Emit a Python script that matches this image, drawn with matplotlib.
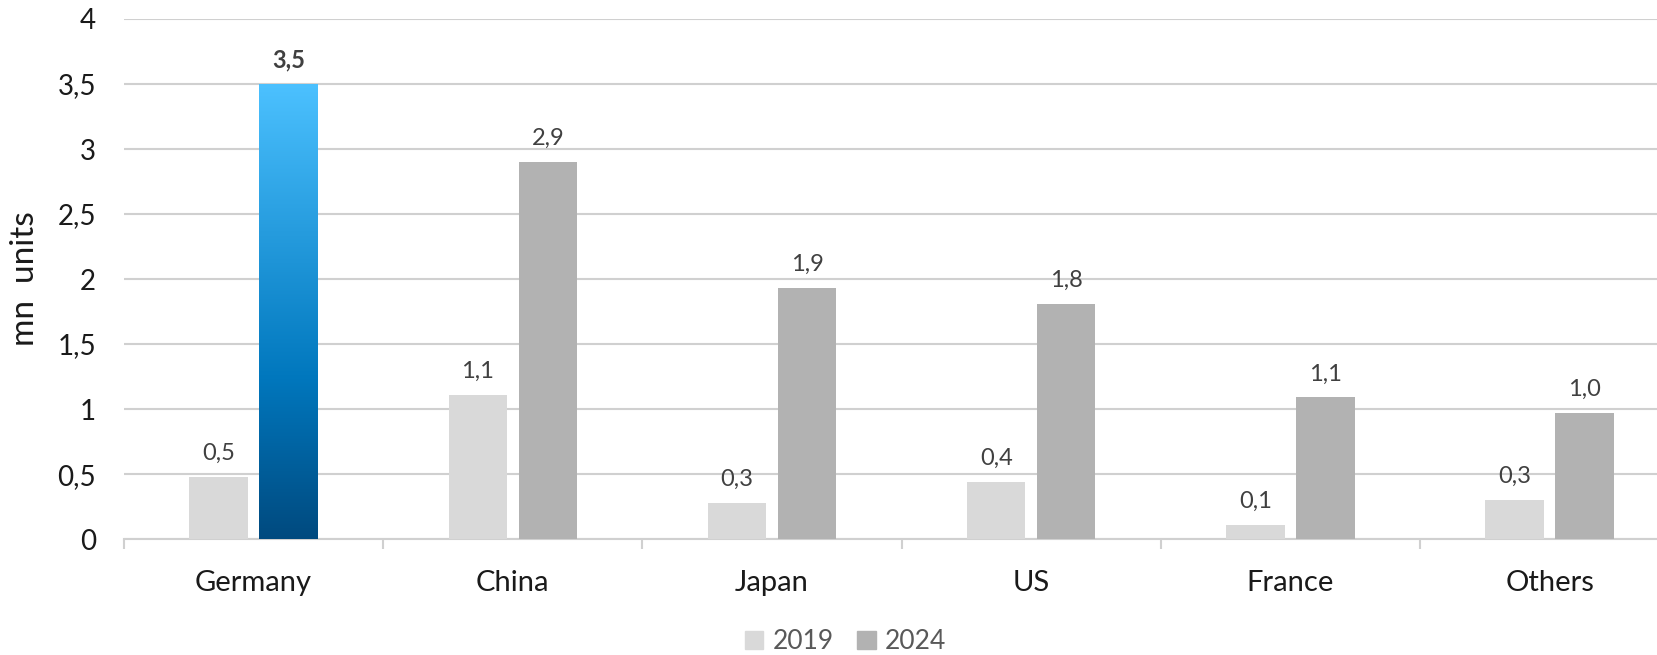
import numpy as np
import matplotlib
matplotlib.use("Agg")
import matplotlib.pyplot as plt
from matplotlib.colors import LinearSegmentedColormap
from matplotlib.patches import Patch

plt.rcParams['font.family'] = ['Lato', 'DejaVu Sans']

categories = ['Germany', 'China', 'Japan', 'US', 'France', 'Others']
vals_2019 = [0.48, 1.11, 0.28, 0.44, 0.11, 0.30]
vals_2024 = [3.5, 2.9, 1.93, 1.81, 1.09, 0.97]
labels_2019 = ['0,5', '1,1', '0,3', '0,4', '0,1', '0,3']
labels_2024 = ['3,5', '2,9', '1,9', '1,8', '1,1', '1,0']
yticks = [0, 0.5, 1, 1.5, 2, 2.5, 3, 3.5, 4]
ytick_labels = ['0', '0,5', '1', '1,5', '2', '2,5', '3', '3,5', '4']

c2019 = '#d9d9d9'
c2024 = '#b2b2b2'
grad = LinearSegmentedColormap.from_list(
    'blue', [(0.0, '#004a7f'), (0.35, '#0077bd'), (1.0, '#4cc1ff')])

fig = plt.figure(figsize=(16.58, 6.55), dpi=100)
# axis runs past the right edge of the picture, as in the original
ax = fig.add_axes([0.0748, 0.177, 0.938, 0.794])

x = np.arange(len(categories))
w = 0.225
off = 0.135
b1 = ax.bar(x - off, vals_2019, w, color=c2019, zorder=3)
b2 = ax.bar(x + off, vals_2024, w, color=c2024, zorder=3)

# gradient fill for Germany 2024
gb = b2[0]
gb.set_facecolor('none')
img = ax.imshow(np.linspace(0, 1, 256).reshape(-1, 1), cmap=grad, aspect='auto',
                origin='lower', zorder=3,
                extent=[gb.get_x(), gb.get_x() + gb.get_width(), 0, gb.get_height()])
img.set_clip_path(gb)

for i in range(len(categories)):
    ax.text(x[i] - off, vals_2019[i] + 0.1, labels_2019[i], ha='center', va='bottom',
            fontsize=17, color='#404040')
    ax.text(x[i] + off, vals_2024[i] + 0.1, labels_2024[i], ha='center', va='bottom',
            fontsize=17, color='#404040', fontweight='bold' if i == 0 else 'normal')

ax.set_xlim(-0.5, len(categories) - 0.5)
ax.set_ylim(0, 4)
ax.set_yticks(yticks)
ax.set_yticklabels(ytick_labels, fontsize=20, color='#1a1a1a')
ax.tick_params(axis='y', length=0, pad=20)
ax.set_xticks(x)
ax.set_xticklabels(categories, fontsize=21, color='#1a1a1a')
ax.tick_params(axis='x', which='major', length=0, pad=22)
ax.set_xticks(np.arange(-0.5, len(categories)), minor=True)
ax.tick_params(axis='x', which='minor', length=7, width=1.5, color='#d0d0d0', direction='out')

ax.grid(axis='y', color='#d0d0d0', linewidth=1.5, zorder=0)
for s in ['top', 'right', 'left']:
    ax.spines[s].set_visible(False)
ax.spines['bottom'].set_color('#d0d0d0')
ax.spines['bottom'].set_linewidth(1.5)

ax.set_ylabel('mn  units', fontsize=24, color='#1a1a1a')
ax.yaxis.set_label_coords(-0.054, 0.5)

handles = [Patch(color=c2019, label='2019'), Patch(color=c2024, label='2024')]
fig.legend(handles=handles, loc='center', bbox_to_anchor=(0.51, 0.02), ncol=2,
           frameon=False, fontsize=19, labelcolor='#595959', handlelength=0.7,
           handleheight=0.7, handletextpad=0.35, columnspacing=0.9)

fig.savefig('out.png', dpi=100)
